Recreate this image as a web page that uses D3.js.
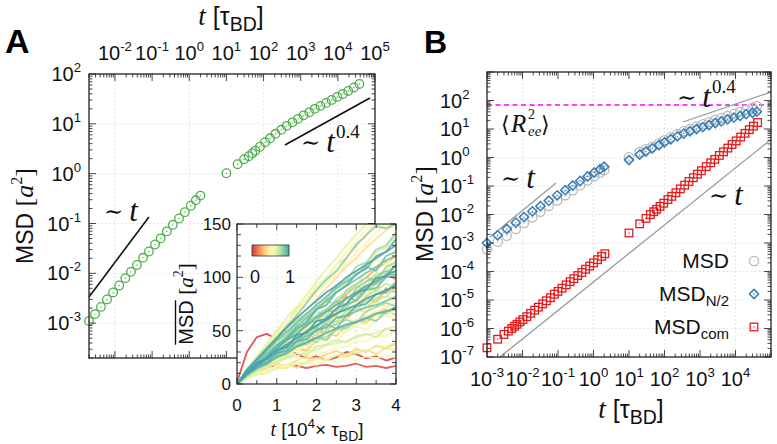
<!DOCTYPE html>
<html><head><meta charset="utf-8">
<script src="https://cdn.jsdelivr.net/npm/d3@7"></script>
<style>body{margin:0;background:#fff}svg{display:block}</style>
</head><body><svg id="c" width="777" height="444"></svg>
<script>
// ---------------- DATA ----------------
// Panel A (MSD, green circles)
const tA1 = [0.002,0.0029,0.0042,0.0061,0.0089,0.013,0.019,0.027,0.039,0.057,0.082,0.12,0.17,0.25,0.36,0.53,0.76,1.1,1.5,2.0];
const msdA1 = [1.10e-3,1.52e-3,2.12e-3,2.99e-3,4.14e-3,5.70e-3,8.0e-3,1.07e-2,1.47e-2,2.05e-2,2.74e-2,3.79e-2,5.04e-2,6.95e-2,9.38e-2,0.126,0.169,0.227,0.292,0.363];
const tA2 = [10,20,30,40,50,60,80,110,150,210,300,420,600,850,1200,1700,2400,3400,4800,6800,9600,13500,19000,27000,38000];
const msdA2 = [1.02,1.55,1.95,2.24,2.57,2.88,3.47,4.27,5.13,6.31,7.59,9.12,10.7,12.6,14.8,17.0,20.0,22.9,26.3,30.2,34.7,39.8,45.7,53.7,63.1];
const guideA_t1 = [0.002,0.082], guideA_y1 = [3.35e-3,0.135];
const guideA_t04 = [377,73000], guideA_y04 = [3.76,33];
const topTickExpA = [-2,-1,0,1,2,3,4,5];
const leftTickExpA = [-3,-2,-1,0,1,2];

// Panel B
const tB1 = [0.001,0.002,0.0036,0.0065,0.011,0.019,0.032,0.055,0.095,0.16,0.26,0.42,0.68,1.05,1.52,2.0];
const msdB1 = [6.0e-4,1.1e-3,1.8e-3,3.1e-3,5.0e-3,8.0e-3,1.25e-2,2.0e-2,3.1e-2,4.7e-2,7.1e-2,0.105,0.155,0.22,0.29,0.36];
const midB1 = [1.0e-3,1.86e-3,3.10e-3,5.18e-3,8.09e-3,1.28e-2,1.96e-2,3.05e-2,4.72e-2,7.12e-2,0.104,0.150,0.216,0.297,0.389,0.475];
const tB2 = [10,20,30,45,70,100,150,230,350,520,800,1200,1800,2700,4000,6000,9000,13500,20000,30000,40000];
const msdB2 = [1.02,1.55,1.95,2.40,3.18,4.03,5.13,6.61,8.32,10.0,12.3,14.8,17.4,20.9,24.5,28.8,33.9,39.8,46.8,56.2,63.1];
const midB2 = [0.81,1.26,1.62,2.09,2.75,3.39,4.37,5.50,6.92,8.32,10.0,11.7,13.8,16.2,18.6,21.9,25.1,28.8,33.1,37.2,40.7];
const tR1 = [0.001,0.002,0.003,0.004,0.005,0.006,0.007,0.0085,0.0103,0.0133,0.017,0.022,0.028,0.037,0.047,0.061,0.079,0.1,0.13,0.17,0.22,0.28,0.36,0.47,0.6,0.78,1.0,1.3,1.7,2.1];
const comB1 = [2.1e-7,4.2e-7,6.2e-7,8.1e-7,1.0e-6,1.2e-6,1.4e-6,1.7e-6,2.05e-6,2.6e-6,3.4e-6,4.4e-6,5.6e-6,7.3e-6,9.4e-6,1.2e-5,1.6e-5,2.0e-5,2.6e-5,3.4e-5,4.4e-5,5.6e-5,7.2e-5,9.3e-5,1.2e-4,1.55e-4,2.0e-4,2.6e-4,3.4e-4,4.2e-4];
const tR2 = [10,20,30,40,50,60,75,95,125,160,210,280,370,490,650,850,1100,1500,2000,2600,3500,4600,6100,8000,10500,14000,18500,24500,32000,42000];
const comB2 = [2.24e-3,4.7e-3,7.3e-3,9.9e-3,1.25e-2,1.52e-2,1.93e-2,2.49e-2,3.34e-2,4.35e-2,5.82e-2,7.92e-2,0.107,0.144,0.195,0.260,0.343,0.478,0.650,0.861,1.18,1.58,2.14,2.86,3.83,5.21,7.03,9.49,12.6,16.9];
const guideB_t1 = [1.2e-3,0.088], guideB_y1 = [1.6e-3,0.127];
const guideB_t04 = [330,1e5], guideB_y04 = [17.6,198];
const guideB_tc = [2.32e-3,1e5], guideB_yc = [1e-7,4.31];
const ReeB = 70;
const bottomTickExpB = [-3,-2,-1,0,1,2,3,4];
const leftTickExpB = [-7,-6,-5,-4,-3,-2,-1,0,1,2];
const legendB = ["MSD","MSD","MSD"];
const legendSubB = ["","N/2","com"];

// Inset (time in 10^4 tau_BD)
const insetT = [0,0.25,0.5,0.75,1,1.25,1.5,1.75,2,2.25,2.5,2.75,3,3.25,3.5,3.75,4];
const insetShade = [0.02,0.05,0.15,0.2,0.3,0.35,0.4,0.45,0.5,0.5,0.55,0.55,0.6,0.6,0.65,0.65,0.7,0.7,0.75,0.75,0.8,0.8,0.85,0.85,0.9,0.9,0.95,0.95,1.0,1.0,0.55,0.85,0.4,0.6,0.7,0.45,0.8,0.65,0.9,0.25,
  0.95,0.9,0.85,0.8,1.0,0.75,0.5,0.45,0.4,0.55,0.6,0.7,0.35,0.95,0.8,0.65];
const insetRuns = [
 [2,30,44,47,42,34,28,24,26,22,25,30,28,24,26,22,25],
 [1,12,15,17,16,18,17,15,17,18,16,17,19,16,17,15,17],
 [1,9,17,26,33,40,36,48,60,56,70,82,78,92,88,104,98],
 [0,7,14,22,30,26,38,46,42,58,64,60,74,82,76,90,86],
 [1,8,15,21,19,28,34,31,42,48,45,55,60,57,66,70,64],
 [0,6,11,15,19,17,22,26,23,28,31,27,33,30,36,33,38],
 [1,7,10,13,16,18,15,21,24,22,27,25,29,32,28,34,31],
 [0,10,17,24,33,38,46,52,49,62,70,76,84,80,96,104,100],
 [0,14,24,36,47,58,66,78,86,95,104,112,124,132,142,150,156],
 [0,9,15,22,28,34,31,44,48,45,56,62,58,70,76,72,84],
 [1,11,19,28,36,42,50,46,62,70,66,80,88,84,98,106,102],
 [0,6,10,13,15,17,19,21,18,22,20,24,22,26,24,27,25],
 [0,12,21,30,40,48,56,64,60,80,86,94,90,108,116,112,126],
 [0,8,13,18,23,27,32,29,39,43,40,50,54,51,60,64,61],
 [1,10,18,26,33,40,37,52,58,55,68,74,70,84,88,85,98],
 [0,14,26,38,50,62,72,84,96,108,118,130,140,150,158,160,165],
 [0,9,16,23,29,35,41,38,52,58,55,66,70,67,78,82,80],
 [0,7,12,17,21,25,29,27,35,37,41,39,45,47,44,52,50],
 [0,11,20,29,37,46,54,60,68,64,80,86,92,88,102,106,110],
 [0,10,17,24,31,37,43,49,46,60,66,71,68,82,88,94,90],
 [0,13,22,32,42,52,60,66,72,78,74,88,94,100,96,110,114],
 [0,9,15,21,27,32,37,42,39,52,56,60,57,68,72,76,73],
 [0,11,19,27,35,43,50,58,64,70,78,74,90,96,100,106,102],
 [0,8,14,20,25,31,35,39,44,41,52,54,58,62,59,68,70],
 [0,12,21,31,41,49,57,66,74,82,90,96,102,110,106,120,124],
 [0,10,16,23,29,35,40,45,50,56,52,64,68,72,74,78,82],
 [0,11,19,25,33,41,47,55,62,68,74,80,86,92,96,102,106],
 [0,9,15,19,25,29,35,39,43,48,52,56,58,62,66,68,72],
 [0,13,23,33,43,53,62,70,78,86,92,100,106,112,118,124,130],
 [0,10,17,25,31,37,43,49,55,60,66,70,74,80,84,88,92],
 [0,12,22,34,46,56,68,80,92,100,112,124,134,146,152,148,150],
 [0,14,24,34,44,54,64,76,88,98,106,118,130,140,148,146,150],
 [0,12,22,32,42,52,62,70,80,90,100,110,118,128,136,144,150],
 [0,8,16,24,30,38,44,52,58,64,70,66,78,84,90,86,94],
 [0,10,18,26,34,42,50,56,64,70,78,86,82,96,104,100,112],
 [0,7,13,19,25,30,34,38,44,48,52,56,60,64,68,72,76],
 [0,11,18,24,28,34,40,46,54,60,66,72,80,88,94,100,106],
 [0,6,12,16,20,24,26,30,32,36,38,40,44,46,48,52,54],
 [0,12,20,28,36,44,54,62,70,78,86,92,98,104,110,116,120],
 [0,9,16,24,32,40,48,54,62,68,76,84,92,100,108,114,120],
 [0,10,19,25,36,42,52,58,70,74,86,92,103,108,120,124,136],
 [0,8,15,24,27,37,40,50,53,63,65,75,78,88,90,100,102],
 [0,12,18,28,32,42,45,57,59,68,69,81,83,92,94,103,106],
 [0,9,15,18,26,28,35,37,43,44,51,52,59,60,66,66,73],
 [0,10,20,23,32,34,46,48,59,61,71,75,85,89,99,101,112],
 [0,11,16,25,28,38,38,49,49,59,58,69,70,78,79,88,86],
 [0,7,14,16,24,25,33,34,42,42,49,49,57,56,64,64,70],
 [0,9,18,22,33,37,48,51,61,64,75,78,89,92,103,106,117],
 [0,13,26,35,50,56,71,78,92,99,112,118,132,138,152,153,162],
 [0,6,10,12,17,18,23,24,29,30,34,35,40,40,45,45,50],
 [0,8,16,19,29,31,41,43,53,54,64,65,75,76,86,87,97],
 [0,11,21,26,39,43,55,60,72,77,89,94,106,111,124,128,140],
 [0,7,14,16,26,27,37,38,48,49,59,60,70,71,81,82,92],
 [0,10,17,20,29,31,40,42,51,53,62,64,73,75,84,86,95],
 [0,12,23,28,41,46,58,63,75,80,93,97,110,114,126,130,142],
 [0,5,9,10,15,15,19,19,23,23,27,27,31,31,35,35,39]
];
const insetYTicks = [0,50,100,150];
const insetXTicks = [0,1,2,3,4];

// ---------------- STYLE ----------------
const SANS = "'Liberation Sans', Arial, Helvetica, sans-serif";
const SERIF = "'Liberation Serif', 'Times New Roman', serif";
const SYM = "'DejaVu Serif', serif";
const GREEN = "#4daf4a", BLUE = "#377eb8", RED = "#e41a1c", GREY = "#b9b9b9";
const spectral = c => d3.interpolateSpectral(0.1 + 0.76 * c);
const TICKFS = 20;

const svg = d3.select('#c');
svg.append('rect').attr('width',777).attr('height',444).attr('fill','#fff');

// scales
const xA = d3.scaleLog().domain([0.002, 1e5]).range([89, 375]);
const yA = d3.scaleLog().domain([2e-4, 100]).range([358, 74]);
const xB = d3.scaleLog().domain([1e-3, 1e5]).range([487, 771]);
const yB = d3.scaleLog().domain([1e-7, 1e3]).range([357, 72]);
const xI = d3.scaleLinear().domain([0, 4]).range([237, 396]);
const yI = d3.scaleLinear().domain([0, 150]).range([384, 224]);

function logTickVals(scale){
  const [a,b] = scale.domain(); const out = [];
  for (let k = Math.floor(Math.log10(a)); k <= Math.ceil(Math.log10(b)); k++)
    for (let m = 1; m <= 9; m++){ const v = m*Math.pow(10,k); if (v >= a*0.9999 && v <= b*1.0001) out.push({v, major: m===1}); }
  return out;
}
function frame(g, x, y, xt, yt, maj, mnr){
  const [x0,x1] = x.range(), [y0,y1] = y.range();
  const tg = g.append('g').attr('stroke','#333').attr('stroke-width',0.9);
  tg.selectAll('.tb').data(xt).join('line').attr('x1',d=>x(d.v)).attr('x2',d=>x(d.v)).attr('y1',y0).attr('y2',d=>y0-(d.major?maj:mnr));
  tg.selectAll('.tt').data(xt).join('line').attr('class','tt').attr('x1',d=>x(d.v)).attr('x2',d=>x(d.v)).attr('y1',y1).attr('y2',d=>y1+(d.major?maj:mnr));
  tg.selectAll('.tl').data(yt).join('line').attr('class','tl').attr('y1',d=>y(d.v)).attr('y2',d=>y(d.v)).attr('x1',x0).attr('x2',d=>x0+(d.major?maj:mnr));
  tg.selectAll('.tr').data(yt).join('line').attr('class','tr').attr('y1',d=>y(d.v)).attr('y2',d=>y(d.v)).attr('x1',x1).attr('x2',d=>x1-(d.major?maj:mnr));
  g.append('rect').attr('x',x0).attr('y',y1).attr('width',x1-x0).attr('height',y0-y1).attr('fill','none').attr('stroke','#222').attr('stroke-width',1.3);
}
function grid(g, x, y, xv, yv){
  const [x0,x1] = x.range(), [y0,y1] = y.range();
  const gg = g.append('g').attr('stroke','#d4d4d4').attr('stroke-width',0.8).attr('stroke-dasharray','1.5,2.5');
  gg.selectAll('.gx').data(xv).join('line').attr('class','gx').attr('x1',d=>x(d)).attr('x2',d=>x(d)).attr('y1',y0).attr('y2',y1);
  gg.selectAll('.gy').data(yv).join('line').attr('class','gy').attr('y1',d=>y(d)).attr('y2',d=>y(d)).attr('x1',x0).attr('x2',x1);
}
function pow10(g, x, y, e, anchor, size){
  const t = g.append('text').attr('x',x).attr('y',y).attr('text-anchor',anchor).style('font-family',SANS).style('font-size',size+'px').attr('fill','#111');
  t.append('tspan').text('10');
  t.append('tspan').attr('dy',-size*0.45).style('font-size',(size*0.66)+'px').text(e);
  return t;
}
function circles(g, xs, ys, x, y, color, r){
  const d = d3.zip(xs, ys);
  g.append('g').selectAll('circle').data(d).join('circle').attr('cx',p=>x(p[0])).attr('cy',p=>y(p[1])).attr('r',r)
    .attr('fill','none').attr('stroke',color).attr('stroke-width',1.3);
  g.append('g').selectAll('circle').data(d).join('circle').attr('cx',p=>x(p[0])).attr('cy',p=>y(p[1])).attr('r',0.7).attr('fill',color);
}
function diamonds(g, xs, ys, x, y, color, h){
  const d = d3.zip(xs, ys);
  g.append('g').selectAll('path').data(d).join('path').attr('d',p=>{const cx=x(p[0]),cy=y(p[1]);return `M${cx},${cy-h}L${cx+h},${cy}L${cx},${cy+h}L${cx-h},${cy}Z`;})
    .attr('fill','none').attr('stroke',color).attr('stroke-width',1.5);
  g.append('g').selectAll('circle').data(d).join('circle').attr('cx',p=>x(p[0])).attr('cy',p=>y(p[1])).attr('r',0.7).attr('fill',color);
}
function squares(g, xs, ys, x, y, color, h){
  const d = d3.zip(xs, ys);
  g.append('g').selectAll('rect').data(d).join('rect').attr('x',p=>x(p[0])-h).attr('y',p=>y(p[1])-h).attr('width',2*h).attr('height',2*h)
    .attr('fill','none').attr('stroke',color).attr('stroke-width',1.3);
  g.append('g').selectAll('circle').data(d).join('circle').attr('cx',p=>x(p[0])).attr('cy',p=>y(p[1])).attr('r',0.7).attr('fill',color);
}
function guide(g, ts, ys, x, y, color, w){
  g.append('path').attr('d', d3.line().x(p=>x(p[0])).y(p=>y(p[1]))(d3.zip(ts,ys))).attr('stroke',color).attr('stroke-width',w).attr('fill','none');
}
function simLabel(g, x, y, exp){
  const t = g.append('text').attr('x',x).attr('y',y).attr('fill','#111');
  t.append('tspan').style('font-family',SYM).style('font-size','23px').attr('dy',-2).text('\u223C');
  t.append('tspan').style('font-family',SERIF).style('font-style','italic').style('font-size','31px').attr('dx',6).attr('dy',2).text('t');
  if (exp) t.append('tspan').style('font-family',SERIF).style('font-size','19px').attr('dx',1).attr('dy',-14).text(exp);
}
function tauTitle(g, x, y, size){
  const t = g.append('text').attr('x',x).attr('y',y).attr('text-anchor','middle').style('font-family',SANS).style('font-size',size+'px').attr('fill','#111');
  t.append('tspan').style('font-family',SERIF).style('font-style','italic').style('font-size',(size+2)+'px').text('t');
  t.append('tspan').text(' [\u03C4');
  t.append('tspan').style('font-size',(size*0.78)+'px').attr('dy',size*0.24).text('BD');
  t.append('tspan').attr('dy',-size*0.24).text(']');
}
function msdTitle(g, x, y, size){
  const gg = g.append('g').attr('transform',`translate(${x},${y}) rotate(-90)`);
  const t = gg.append('text').attr('text-anchor','middle').attr('fill','#111');
  t.append('tspan').style('font-family',SANS).style('font-size',size+'px').text('MSD ');
  t.append('tspan').style('font-family',SERIF).style('font-size',(size+3)+'px').text('[');
  t.append('tspan').style('font-family',SERIF).style('font-style','italic').style('font-size',(size+3)+'px').text('a');
  t.append('tspan').style('font-family',SERIF).style('font-size',(size*0.7)+'px').attr('dy',-size*0.5).text('2');
  t.append('tspan').style('font-family',SERIF).style('font-size',(size+3)+'px').attr('dy',size*0.5).text(']');
  return t;
}

// ================= PANEL A =================
const gA = svg.append('g');
grid(gA, xA, yA, [0.01,1,100,1e4], [1e-3,1e-2,1e-1,1,10]);
guide(gA, guideA_t1, guideA_y1, xA, yA, '#111', 1.6);
guide(gA, guideA_t04, guideA_y04, xA, yA, '#111', 1.6);
circles(gA, tA1, msdA1, xA, yA, GREEN, 4.3);
circles(gA, tA2, msdA2, xA, yA, GREEN, 4.3);
frame(gA, xA, yA, logTickVals(xA), logTickVals(yA), 7, 3.5);
topTickExpA.forEach(e => pow10(gA, xA(Math.pow(10,e)), 60, String(e), 'middle', TICKFS));
leftTickExpA.forEach(e => pow10(gA, 81, yA(Math.pow(10,e))+7, String(e), 'end', TICKFS));
tauTitle(gA, 231, 25, 25);
msdTitle(gA, 33, 216, 23);
simLabel(gA, 104, 221, null);
simLabel(gA, 301, 152, '0.4');
gA.append('text').attr('x',5).attr('y',53).style('font-family',SANS).style('font-weight','bold').style('font-size','34px').attr('fill','#000').text('A');

// ---------- inset ----------
const gI = svg.append('g');
gI.append('rect').attr('x',237).attr('y',224).attr('width',159).attr('height',160).attr('fill','#fff');
grid(gI, xI, yI, [1,2,3], [50,100]);
gI.append('clipPath').attr('id','ic').append('rect').attr('x',237).attr('y',224).attr('width',159).attr('height',160);
const runs = insetRuns.map((r,i)=>({r, c: insetShade[i]})).sort((a,b)=>a.c-b.c);
const lineI = d3.line().x((v,i)=>xI(insetT[i])).y(v=>yI(v));
gI.append('g').attr('clip-path','url(#ic)').selectAll('path').data(runs).join('path')
  .attr('d',d=>lineI(d.r)).attr('fill','none').attr('stroke',d=>spectral(d.c)).attr('stroke-width',1.8).attr('stroke-opacity',0.9).attr('stroke-linejoin','round');
(function(){
  const tg = gI.append('g').attr('stroke','#333').attr('stroke-width',0.9);
  const xt = d3.range(0,4.01,0.5), yt = d3.range(0,150.1,10);
  tg.selectAll('.a').data(xt).join('line').attr('class','a').attr('x1',d=>xI(d)).attr('x2',d=>xI(d)).attr('y1',384).attr('y2',d=>384-(d%1===0?6:4));
  tg.selectAll('.b').data(xt).join('line').attr('class','b').attr('x1',d=>xI(d)).attr('x2',d=>xI(d)).attr('y1',224).attr('y2',d=>224+(d%1===0?6:4));
  tg.selectAll('.c').data(yt).join('line').attr('class','c').attr('y1',d=>yI(d)).attr('y2',d=>yI(d)).attr('x1',237).attr('x2',d=>237+(d%50===0?6:4));
  tg.selectAll('.d').data(yt).join('line').attr('class','d').attr('y1',d=>yI(d)).attr('y2',d=>yI(d)).attr('x1',396).attr('x2',d=>396-(d%50===0?6:4));
  gI.append('rect').attr('x',237).attr('y',224).attr('width',159).attr('height',160).attr('fill','none').attr('stroke','#222').attr('stroke-width',1.2);
})();
gI.selectAll('.ylab').data(insetYTicks).join('text').attr('class','ylab').attr('x',231).attr('y',d=>yI(d)+6).attr('text-anchor','end')
  .style('font-family',SANS).style('font-size','17px').attr('fill','#111').text(d=>d);
gI.selectAll('.xlab').data(insetXTicks).join('text').attr('class','xlab').attr('x',d=>xI(d)).attr('y',411).attr('text-anchor','middle')
  .style('font-family',SANS).style('font-size','17px').attr('fill','#111').text(d=>d);
(function(){
  const t = gI.append('text').attr('x',317).attr('y',436).attr('text-anchor','middle').style('font-family',SANS).style('font-size','19px').attr('fill','#111');
  t.append('tspan').style('font-family',SERIF).style('font-style','italic').style('font-size','20px').text('t');
  t.append('tspan').text(' [10');
  t.append('tspan').style('font-size','13px').attr('dy',-8).text('4');
  t.append('tspan').attr('dy',8).text('\u00D7 \u03C4');
  t.append('tspan').style('font-size','14px').attr('dy',5).text('BD');
  t.append('tspan').attr('dy',-5).text(']');
})();
(function(){
  const gg = gI.append('g').attr('transform','translate(193,304) rotate(-90)');
  const t = gg.append('text').attr('text-anchor','middle').attr('fill','#111');
  t.append('tspan').style('font-family',SANS).style('font-size','20px').text('MSD ');
  t.append('tspan').style('font-family',SERIF).style('font-size','21px').text('[');
  t.append('tspan').style('font-family',SERIF).style('font-style','italic').style('font-size','21px').text('a');
  t.append('tspan').style('font-family',SERIF).style('font-size','14px').attr('dy',-10).text('2');
  t.append('tspan').style('font-family',SERIF).style('font-size','21px').attr('dy',10).text(']');
  const n = t.node(); const tot = n.getComputedTextLength(); const len = n.getSubStringLength(0,3);
  gg.append('line').attr('x1',-tot/2).attr('x2',-tot/2+len).attr('y1',-17.5).attr('y2',-17.5).attr('stroke','#111').attr('stroke-width',1.4);
})();
(function(){
  const grad = svg.append('defs').append('linearGradient').attr('id','cb');
  grad.selectAll('stop').data(d3.range(0,1.001,0.1)).join('stop').attr('offset',d=>d).attr('stop-color',d=>spectral(d));
  gI.append('rect').attr('x',252).attr('y',245).attr('width',37).attr('height',11).attr('fill','url(#cb)').attr('stroke','#333').attr('stroke-width',0.8);
  gI.append('text').attr('x',255).attr('y',283).attr('text-anchor','middle').style('font-family',SANS).style('font-size','18px').attr('fill','#111').text('0');
  gI.append('text').attr('x',290).attr('y',283).attr('text-anchor','middle').style('font-family',SANS).style('font-size','18px').attr('fill','#111').text('1');
})();

// ================= PANEL B =================
const gB = svg.append('g');
grid(gB, xB, yB, [0.01,1,100,1e4], [1e-6,1e-5,1e-4,1e-3,1e-2,1e-1,1,10]);
gB.append('line').attr('x1',487).attr('x2',771).attr('y1',yB(ReeB)).attr('y2',yB(ReeB)).attr('stroke','#ff00ff').attr('stroke-width',1.5).attr('stroke-dasharray','5,3.5');
guide(gB, guideB_t1, guideB_y1, xB, yB, '#9a9a9a', 1.3);
guide(gB, guideB_t04, guideB_y04, xB, yB, '#9a9a9a', 1.3);
guide(gB, guideB_tc, guideB_yc, xB, yB, '#9a9a9a', 1.3);
const gBd = gB.append('g');
circles(gBd, tB1, msdB1, xB, yB, GREY, 4.6);
circles(gBd, tB2, msdB2, xB, yB, GREY, 4.6);
diamonds(gBd, tB1, midB1, xB, yB, BLUE, 4.6);
diamonds(gBd, tB2, midB2, xB, yB, BLUE, 4.6);
squares(gBd, tR1, comB1, xB, yB, RED, 3.8);
squares(gBd, tR2, comB2, xB, yB, RED, 3.8);
frame(gB, xB, yB, logTickVals(xB), logTickVals(yB), 7, 3.5);
bottomTickExpB.forEach(e => pow10(gB, xB(Math.pow(10,e)), 386, String(e), 'middle', TICKFS));
leftTickExpB.forEach(e => pow10(gB, 440, yB(Math.pow(10,e))+7, String(e), 'start', TICKFS));
tauTitle(gB, 631, 418, 25);
msdTitle(gB, 433, 214, 23);
simLabel(gB, 501, 188, null);
simLabel(gB, 709, 205, null);
simLabel(gB, 677, 107, '0.4');
(function(){
  gB.append('text').attr('x',501).attr('y',132).style('font-family',SYM).style('font-size','22px').attr('fill','#111').text('\u27E8');
  gB.append('text').attr('x',511).attr('y',132).style('font-family',SERIF).style('font-style','italic').style('font-size','25px').attr('fill','#111').text('R');
  gB.append('text').attr('x',528).attr('y',119).style('font-family',SERIF).style('font-size','14px').attr('fill','#111').text('2');
  gB.append('text').attr('x',528).attr('y',136).style('font-family',SERIF).style('font-style','italic').style('font-size','15px').attr('fill','#111').text('ee');
  gB.append('text').attr('x',541).attr('y',132).style('font-family',SYM).style('font-size','22px').attr('fill','#111').text('\u27E9');
})();
const legY = [261, 294, 327];
legendB.forEach((s,i)=>{
  const t = gB.append('text').attr('x',729).attr('y',legY[i]+7).attr('text-anchor','end').style('font-family',SANS).style('font-size','21px').attr('fill','#111');
  t.append('tspan').text(s);
  if (legendSubB[i]) t.append('tspan').style('font-size','15px').attr('dy',5).text(legendSubB[i]);
});
circles(gB, [1], [1], ()=>754, ()=>legY[0], GREY, 4.6);
diamonds(gB, [1], [1], ()=>754, ()=>legY[1], BLUE, 4.6);
squares(gB, [1], [1], ()=>754, ()=>legY[2], RED, 3.8);
gB.append('text').attr('x',424).attr('y',53).style('font-family',SANS).style('font-weight','bold').style('font-size','32px').attr('fill','#000').text('B');
</script></body></html>
